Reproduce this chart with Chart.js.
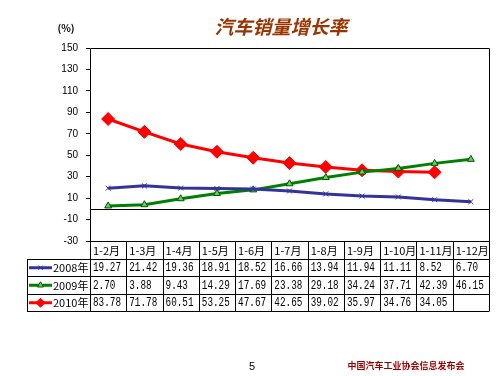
<!DOCTYPE html>
<html>
<head>
<meta charset="utf-8">
<script src="https://cdn.jsdelivr.net/npm/chart.js@4/dist/chart.umd.min.js"></script>
<style>
  body { margin: 0; background: #fff; }
  #wrap { width: 500px; height: 376px; }
</style>
</head>
<body>
<div id="wrap"><canvas id="salesChart" width="500" height="376"></canvas></div>
<script>
// categories and series
var months = ['1-2月', '1-3月', '1-4月', '1-5月', '1-6月', '1-7月', '1-8月', '1-9月', '1-10月', '1-11月', '1-12月'];
var seriesNames = ['2008年', '2009年', '2010年'];
var sales2008 = [19.27, 21.42, 19.36, 18.91, 18.52, 16.66, 13.94, 11.94, 11.11, 8.52, 6.70];
var sales2009 = [2.70, 3.88, 9.43, 14.29, 17.69, 23.38, 29.18, 34.24, 37.71, 42.39, 46.15];
var sales2010 = [83.78, 71.78, 60.51, 53.25, 47.67, 42.65, 39.02, 35.97, 34.76, 34.05, null];
var yTicks = [-30, 150, 20]; // min, max, step

var cellFont = '12px "Liberation Mono", "DejaVu Sans Mono", monospace';
var cjkFont = '"Noto Sans CJK SC", sans-serif';
var legendMarkerSize = [3, 3.5, 4.5];

// draws frame, zero line, data table and the texts around the chart
var tablePlugin = {
    id: 'dataTable',
    afterDraw: function (chart) {
        var ctx = chart.ctx;
        var area = chart.chartArea;
        var x = chart.scales.x;
        var y = chart.scales.y;
        var half = (x.getPixelForValue(1) - x.getPixelForValue(0)) / 2;
        var rowH = 17.5;
        var top = area.bottom;
        var bottom = top + rowH * 4;
        var legendLeft = 27;

        ctx.save();
        ctx.strokeStyle = '#000';
        ctx.lineWidth = 1;

        // zero line
        var y0 = Math.round(y.getPixelForValue(0)) + 0.5;
        ctx.beginPath();
        ctx.moveTo(area.left, y0);
        ctx.lineTo(area.right, y0);
        ctx.stroke();

        // frame
        ctx.beginPath();
        ctx.moveTo(area.left + 0.5, area.top + 0.5);
        ctx.lineTo(area.right + 0.5, area.top + 0.5);
        ctx.lineTo(area.right + 0.5, bottom + 0.5);
        ctx.moveTo(area.left + 0.5, area.top + 0.5);
        ctx.lineTo(area.left + 0.5, bottom + 0.5);
        ctx.stroke();

        // horizontal table lines
        for (var r = 0; r <= 4; r++) {
            var ly = Math.round(top + r * rowH) + 0.5;
            ctx.beginPath();
            ctx.moveTo(r === 0 ? area.left : legendLeft, ly);
            ctx.lineTo(area.right, ly);
            ctx.stroke();
        }
        // left edge of the legend column
        ctx.beginPath();
        ctx.moveTo(legendLeft + 0.5, Math.round(top + rowH) + 0.5);
        ctx.lineTo(legendLeft + 0.5, bottom + 0.5);
        ctx.stroke();
        // column lines
        for (var i = 1; i < months.length; i++) {
            var lx = Math.round(x.getPixelForValue(i) - half) + 0.5;
            ctx.beginPath();
            ctx.moveTo(lx, top);
            ctx.lineTo(lx, bottom);
            ctx.stroke();
        }

        // header and values
        ctx.fillStyle = '#000';
        ctx.textBaseline = 'middle';
        ctx.textAlign = 'left';
        var rows = [sales2008, sales2009, sales2010];
        months.forEach(function (m, i) {
            var cx = x.getPixelForValue(i) - half + 3;
            ctx.font = '11px ' + cjkFont;
            ctx.fillText(m, cx, top + rowH / 2 + 1);
            ctx.font = cellFont;
            rows.forEach(function (vals, r) {
                if (vals[i] !== null) {
                    var s = vals[i].toFixed(2);
                    ctx.fillText(s, cx, top + rowH * (r + 1.5) + 1, s.length * 5.6);
                }
            });
        });

        // legend cells
        chart.data.datasets.forEach(function (ds, r) {
            var cy = top + rowH * (r + 1.5) + 0.5;
            ctx.strokeStyle = ds.borderColor;
            ctx.lineWidth = 3;
            ctx.beginPath();
            ctx.moveTo(29, cy);
            ctx.lineTo(52, cy);
            ctx.stroke();
            ctx.lineWidth = 1;
            ctx.fillStyle = ds.backgroundColor;
            ctx.strokeStyle = ds.pointBorderColor;
            Chart.helpers.drawPoint(ctx, {
                pointStyle: ds.pointStyle,
                radius: legendMarkerSize[r],
                borderWidth: 1
            }, 40.5, cy);
            ctx.fillStyle = '#000';
            ctx.font = '11px ' + cjkFont;
            ctx.fillText(seriesNames[r], 53, cy + 0.5);
        });

        // texts around the chart
        ctx.textAlign = 'center';
        ctx.fillStyle = '#993300';
        ctx.font = 'italic bold 19px ' + cjkFont;
        ctx.fillText('汽车销量增长率', 281, 27);
        ctx.fillStyle = '#000';
        ctx.font = 'bold 10px ' + cjkFont;
        ctx.fillText('(%)', 66, 28);
        ctx.font = '11px "Liberation Sans", sans-serif';
        ctx.fillText('5', 252, 367);
        ctx.fillStyle = '#990000';
        ctx.font = 'bold 9px ' + cjkFont;
        ctx.fillText('中国汽车工业协会信息发布会', 406, 366);
        ctx.restore();
    }
};

document.addEventListener('DOMContentLoaded', function () {
    var ctx = document.getElementById('salesChart').getContext('2d');
    new Chart(ctx, {
        type: 'line',
        data: {
            labels: months,
            datasets: [{
                label: seriesNames[0],
                data: sales2008,
                borderColor: '#333399',
                backgroundColor: '#333399',
                borderWidth: 3,
                pointStyle: 'crossRot',
                pointRadius: 3.5,
                pointBorderWidth: 1,
                pointBorderColor: '#333399'
            }, {
                label: seriesNames[1],
                data: sales2009,
                borderColor: '#008000',
                backgroundColor: '#66cc66',
                borderWidth: 3,
                pointStyle: 'triangle',
                pointRadius: 4,
                pointBorderWidth: 1,
                pointBorderColor: '#005500'
            }, {
                label: seriesNames[2],
                data: sales2010,
                borderColor: '#ff0000',
                backgroundColor: '#ff0000',
                borderWidth: 3,
                pointStyle: 'rectRot',
                pointRadius: 6.5,
                pointBorderWidth: 1,
                pointBorderColor: '#ff0000'
            }]
        },
        options: {
            responsive: false,
            animation: false,
            layout: {
                autoPadding: false,
                padding: { left: 0, right: 11, top: 48, bottom: 135 }
            },
            plugins: {
                legend: { display: false },
                title: { display: false },
                tooltip: { enabled: false }
            },
            scales: {
                x: {
                    display: false,
                    offset: true
                },
                y: {
                    min: yTicks[0],
                    max: yTicks[1],
                    afterFit: function (s) { s.width = 90; },
                    border: { display: false },
                    grid: {
                        drawOnChartArea: false,
                        drawTicks: true,
                        tickLength: 4,
                        color: '#000'
                    },
                    ticks: {
                        stepSize: yTicks[2],
                        padding: 8,
                        color: '#000',
                        font: { family: '"Liberation Sans", sans-serif', size: 10 }
                    }
                }
            }
        },
        plugins: [tablePlugin]
    });
});
</script>
</body>
</html>
